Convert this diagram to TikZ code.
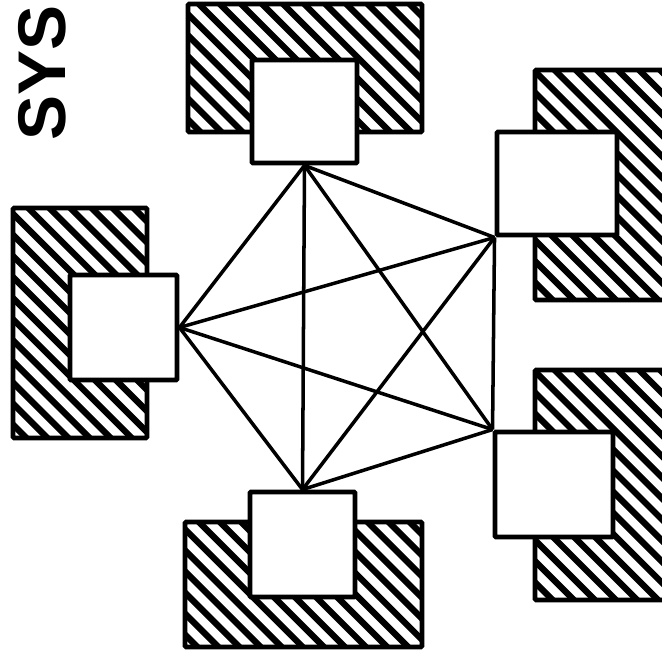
\documentclass[tikz,border=0pt]{standalone}
\usepackage{fontspec}
\setmainfont{Liberation Sans}
\usetikzlibrary{fit}

\begin{document}
\begin{tikzpicture}[x=0.5mm, y=-0.5mm,
    frame/.style={draw, line width=7pt, rounded corners=2pt, inner sep=0pt,
      path picture={\foreach \c in {-540,-510,...,540}
        \draw[line width=9pt] ([xshift=\c pt]path picture bounding box.center) ++(-250pt,250pt) -- ++(500pt,-500pt);}},
    term/.style={draw, fill=white, line width=7pt, rounded corners=1.5pt, inner sep=0pt},
    link/.style={line width=5pt}
  ]
    \useasboundingbox (0,0) rectangle (662,653);
    \clip (0,0) rectangle (662,653);

    \node[rotate=90, font=\bfseries\fontsize{96}{96}\selectfont, inner sep=0pt] (title) at (42,73) {SYS};

    % hatched mounts
    \node[frame, fit={(188,4) (422,132)}] (fT) {};
    \node[frame, fit={(13,208) (147,438)}] (fL) {};
    \node[frame, fit={(185,522) (422,647)}] (fB) {};
    \node[frame, fit={(535,70) (720,300)}] (fRT) {};
    \node[frame, fit={(535,370) (720,600)}] (fRB) {};

    % stations
    \node[term, fit={(252,60) (357,163)}] (sqT) {};
    \node[term, fit={(70,275) (177,380)}] (sqL) {};
    \node[term, fit={(250,492) (355,597)}] (sqB) {};
    \node[term, fit={(497,132) (617,235)}] (sqRT) {};
    \node[term, fit={(495,432) (613,537)}] (sqRB) {};

    \draw[link] (sqT.south) -- (sqL.east);
    \draw[link] (sqT.south) -- (sqB.north);
    \draw[link] (sqT.south) -- (sqRT.south west);
    \draw[link] (sqT.south) -- (sqRB.north west);
    \draw[link] (sqL.east) -- (sqB.north);
    \draw[link] (sqL.east) -- (sqRT.south west);
    \draw[link] (sqL.east) -- (sqRB.north west);
    \draw[link] (sqB.north) -- (sqRT.south west);
    \draw[link] (sqB.north) -- (sqRB.north west);
    \draw[link] (sqRT.south west) -- (sqRB.north west);
  \end{tikzpicture}
\end{document}
